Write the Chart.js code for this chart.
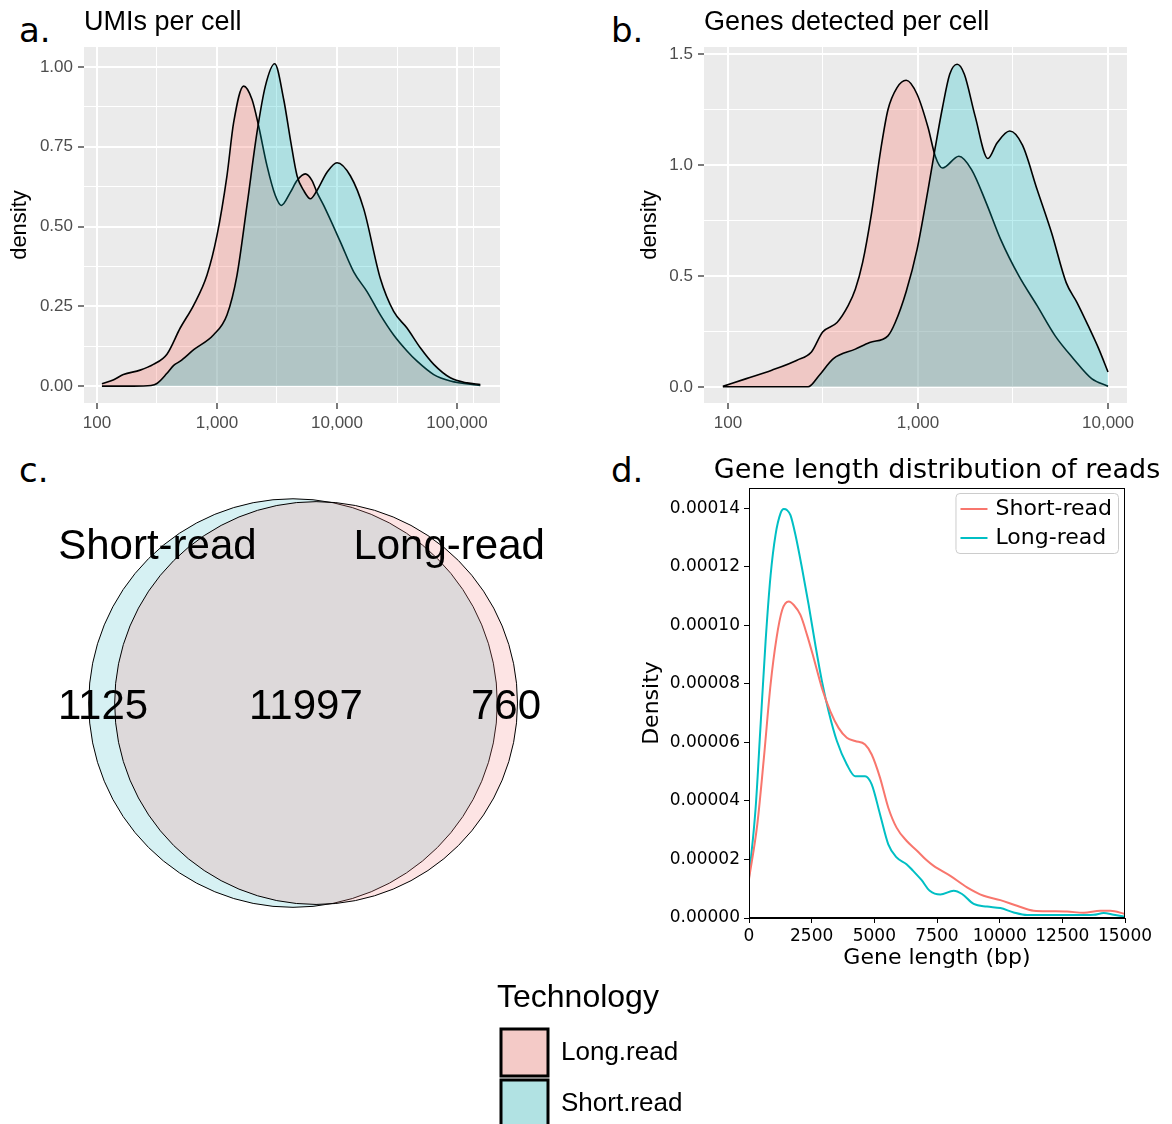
<!DOCTYPE html>
<html>
<head>
<meta charset="utf-8">
<title>Short-read vs long-read</title>
<script src="https://cdn.jsdelivr.net/npm/chart.js@4.4.1/dist/chart.umd.min.js"></script>
<style>
  html, body { margin: 0; padding: 0; background: #fff; }
  body { position: relative; width: 1172px; height: 1124px; overflow: hidden; }
  canvas { position: absolute; }
  .tag { position: absolute; font-family: "DejaVu Sans"; font-size: 34px; line-height: 34px; color: #000; }
</style>
</head>
<body>
<div class="tag" style="left:19px; top:13px;">a.</div>
<div class="tag" style="left:611px; top:13px;">b.</div>
<div class="tag" style="left:19px; top:453px;">c.</div>
<div class="tag" style="left:611px; top:453px;">d.</div>

<canvas id="chartA" width="520" height="440" style="left:0; top:0;"></canvas>
<canvas id="chartB" width="572" height="440" style="left:600px; top:0;"></canvas>
<canvas id="chartC" width="580" height="520" style="left:0; top:450px;"></canvas>
<canvas id="chartD" width="572" height="525" style="left:600px; top:450px;"></canvas>
<canvas id="chartLegend" width="400" height="170" style="left:497px; top:975px;"></canvas>

<script>
// ---- a. UMIs per cell (density on log10 axis) ----
const umiLongX = [110, 138, 166, 229, 295, 383, 494, 640, 826, 1000, 1211, 1377, 1667, 1959, 2223, 2612, 3062, 3436, 4083, 4645, 5445, 6194, 6808, 7745, 10666, 13772, 17783, 22961, 29648, 38282, 46452, 63973, 87902, 156300];
const umiLongY = [0.007, 0.02, 0.036, 0.05, 0.068, 0.10, 0.182, 0.254, 0.348, 0.472, 0.659, 0.826, 0.94, 0.898, 0.815, 0.69, 0.597, 0.566, 0.607, 0.644, 0.665, 0.644, 0.607, 0.566, 0.452, 0.358, 0.296, 0.223, 0.16, 0.11, 0.078, 0.036, 0.016, 0.002];
const umiShortX = [110, 200, 282, 316, 383, 436, 494, 640, 938, 1211, 1469, 1778, 2153, 2529, 3027, 3597, 4083, 4645, 5272, 5998, 6808, 8260, 10000, 12912, 16672, 22961, 29648, 38282, 49431, 63973, 87902, 121060, 156300];
const umiShortY = [0, 0, 0.002, 0.008, 0.04, 0.065, 0.078, 0.114, 0.161, 0.223, 0.348, 0.566, 0.794, 0.94, 1.01, 0.898, 0.774, 0.659, 0.613, 0.587, 0.613, 0.67, 0.70, 0.659, 0.556, 0.337, 0.234, 0.182, 0.12, 0.068, 0.026, 0.01, 0.005];
const umiTicks = [100, 1000, 10000, 100000];
const umiDensityTicks = [0, 0.25, 0.5, 0.75, 1];

// ---- b. Genes detected per cell ----
const geneLongX = [94, 125, 170, 231, 275, 315, 375, 429, 468, 511, 570, 637, 695, 776, 867, 989, 1130, 1233, 1346, 1641, 1914, 2286, 2723, 3396, 4236, 5272, 6577, 8204, 10000];
const geneLongY = [0.002, 0.037, 0.075, 0.12, 0.157, 0.247, 0.29, 0.366, 0.44, 0.56, 0.785, 1.07, 1.25, 1.35, 1.383, 1.32, 1.17, 1.04, 0.987, 1.04, 0.98, 0.83, 0.665, 0.50, 0.366, 0.23, 0.127, 0.037, 0.003];
const geneShortX = [94, 155, 264, 301, 359, 468, 557, 695, 759, 867, 989, 1130, 1233, 1346, 1469, 1607, 1754, 2000, 2333, 2606, 3041, 3548, 4236, 5047, 6026, 6871, 7852, 8954, 10000];
const geneShortY = [0, 0, 0, 0.05, 0.127, 0.17, 0.20, 0.23, 0.29, 0.43, 0.62, 0.89, 1.08, 1.26, 1.41, 1.455, 1.41, 1.22, 1.03, 1.10, 1.154, 1.09, 0.89, 0.695, 0.47, 0.38, 0.277, 0.17, 0.067];
const geneTicks = [100, 1000, 10000];
const geneDensityTicks = [0, 0.5, 1.0, 1.5];

// ---- c. Venn: genes detected ----
const vennSets = ['Short-read', 'Long-read'];
const vennOnly = [1125, 760];
const vennShared = 11997;
const vennCenterX = [0, 7.3];

// ---- d. Gene length distribution of reads ----
const lenShortX = [0, 331, 595, 860, 1098, 1323, 1588, 1786, 2051, 2315, 2580, 2911, 3241, 3572, 3903, 4234, 4630, 4895, 5226, 5557, 5887, 6284, 6702, 7078, 7367, 8032, 8697, 9362, 10027, 10692, 11357, 12022, 12687, 13352, 14017, 14416, 15000];
const lenShortY = [1.33e-5, 3.2e-5, 5.48e-5, 7.98e-5, 9.57e-5, 10.53e-5, 10.82e-5, 10.7e-5, 10.36e-5, 9.68e-5, 8.89e-5, 7.86e-5, 7.07e-5, 6.5e-5, 6.16e-5, 6.05e-5, 5.93e-5, 5.59e-5, 4.8e-5, 3.77e-5, 3.09e-5, 2.64e-5, 2.3e-5, 1.98e-5, 1.78e-5, 1.44e-5, 1.05e-5, 0.76e-5, 0.61e-5, 0.42e-5, 0.25e-5, 0.23e-5, 0.22e-5, 0.18e-5, 0.25e-5, 0.25e-5, 0.14e-5];
const lenLongX = [0, 265, 463, 661, 860, 1058, 1257, 1389, 1521, 1654, 1852, 2117, 2381, 2646, 2911, 3175, 3506, 3903, 4234, 4630, 4895, 5226, 5557, 5887, 6284, 6549, 6880, 7210, 7633, 8165, 8498, 8963, 9495, 10027, 10559, 11091, 12022, 12953, 13751, 14150, 14549, 15000];
const lenLongY = [1.39e-5, 3.77e-5, 6.61e-5, 9.45e-5, 11.7e-5, 13.1e-5, 13.83e-5, 13.98e-5, 13.94e-5, 13.77e-5, 13.1e-5, 11.95e-5, 10.7e-5, 9.34e-5, 8.09e-5, 7.07e-5, 6.05e-5, 5.25e-5, 4.85e-5, 4.85e-5, 4.57e-5, 3.55e-5, 2.52e-5, 2.07e-5, 1.84e-5, 1.61e-5, 1.3e-5, 0.93e-5, 0.8e-5, 0.93e-5, 0.82e-5, 0.48e-5, 0.39e-5, 0.34e-5, 0.19e-5, 0.10e-5, 0.10e-5, 0.10e-5, 0.11e-5, 0.17e-5, 0.11e-5, 0.045e-5];
const lenTicks = [0, 2500, 5000, 7500, 10000, 12500, 15000];
const lenDensityTicks = [0, 2e-5, 4e-5, 6e-5, 8e-5, 10e-5, 12e-5, 14e-5];

const techNames = ['Long.read', 'Short.read'];
const red = '#F8766D';
const teal = '#00BFC4';

Chart.defaults.font.family = 'Liberation Sans';
Chart.defaults.animation = false;
Chart.defaults.events = [];
Chart.defaults.plugins.legend.display = false;
Chart.defaults.plugins.tooltip.enabled = false;

const pairs = (xs, ys) => xs.map((x, i) => ({ x: x, y: ys[i] }));

// major ticks plus ggplot-style minor breaks halfway between them
function withMinor(major, mid, lo, hi) {
  const out = major.map(v => ({ value: v, gg: true }));
  const ext = [major[0] * 2 - major[1], ...major, major[major.length - 1] * 2 - major[major.length - 2]];
  for (let i = 0; i < ext.length - 1; i++) {
    const m = mid(ext[i], ext[i + 1]);
    if (m > lo && m < hi) out.push({ value: m, gg: false });
  }
  return out.sort((a, b) => a.value - b.value);
}
const logMid = (a, b) => (a > 0 ? Math.sqrt(a * b) : NaN);
const linMid = (a, b) => (a + b) / 2;

const ggPanel = {
  id: 'ggPanel',
  beforeDraw(chart) {
    const { ctx, chartArea: a } = chart;
    ctx.save();
    ctx.fillStyle = '#ebebeb';
    ctx.fillRect(a.left, a.top, a.width, a.height);
    ctx.restore();
  }
};

const ggGrid = {
  color: '#ffffff',
  lineWidth: c => (c.tick && c.tick.gg ? 2 : 1),
  tickColor: c => (c.tick && c.tick.gg ? '#333333' : 'rgba(0,0,0,0)'),
  tickWidth: 1.3,
  tickLength: 6,
  drawTicks: true
};

function densitySet(label, xs, ys, fill) {
  return {
    label: label,
    data: pairs(xs, ys),
    borderColor: '#000000',
    borderWidth: 1.6,
    backgroundColor: fill,
    fill: 'origin',
    pointRadius: 0,
    cubicInterpolationMode: 'monotone'
  };
}

function ggOptions(o) {
  return {
    responsive: false,
    layout: { padding: { left: o.padLeft, right: o.padRight, top: 0, bottom: 0 } },
    plugins: {
      title: {
        display: true, text: o.title, align: 'start', fullSize: false, color: '#000',
        font: { size: 27, weight: 'normal' }, padding: { top: 6, bottom: 8.6 }
      }
    },
    scales: {
      x: {
        type: 'logarithmic', min: o.xMin, max: o.xMax, bounds: 'data',
        afterBuildTicks: s => { s.ticks = withMinor(o.xTicks, logMid, o.xMin, o.xMax); },
        afterFit: s => { s.height = 37; },
        border: { display: false },
        grid: ggGrid,
        ticks: {
          autoSkip: false, maxRotation: 0, color: '#4d4d4d', font: { size: 17 }, padding: 4,
          callback: (v, i, t) => (t[i].gg ? Number(v).toLocaleString('en-US') : '')
        }
      },
      y: {
        type: 'linear', min: o.yMin, max: o.yMax, bounds: 'data',
        afterBuildTicks: s => { s.ticks = withMinor(o.yTicks, linMid, o.yMin, o.yMax); },
        afterFit: s => { s.width = o.yWidth; },
        border: { display: false },
        grid: ggGrid,
        title: { display: true, text: 'density', color: '#000', font: { size: 22 }, padding: { top: 7, bottom: 0 } },
        ticks: {
          color: '#4d4d4d', font: { size: 17 }, padding: 5,
          callback: (v, i, t) => (t[i].gg ? Number(v).toFixed(o.yDigits) : '')
        }
      }
    }
  };
}

const longFill = 'rgba(248,118,109,0.3)';
const shortFill = 'rgba(0,191,196,0.26)';

// a.
new Chart(document.getElementById('chartA'), {
  type: 'line',
  data: {
    datasets: [
      densitySet(techNames[1], umiShortX, umiShortY, shortFill),
      densitySet(techNames[0], umiLongX, umiLongY, longFill)
    ]
  },
  options: ggOptions({
    title: 'UMIs per cell', xMin: 78, xMax: 228000, xTicks: umiTicks,
    yMin: -0.053, yMax: 1.0625, yTicks: umiDensityTicks, yDigits: 2,
    yWidth: 84, padLeft: 0, padRight: 20
  }),
  plugins: [ggPanel]
});

// b.
new Chart(document.getElementById('chartB'), {
  type: 'line',
  data: {
    datasets: [
      densitySet(techNames[1], geneShortX, geneShortY, shortFill),
      densitySet(techNames[0], geneLongX, geneLongY, longFill)
    ]
  },
  options: ggOptions({
    title: 'Genes detected per cell', xMin: 74.8, xMax: 12590, xTicks: geneTicks,
    yMin: -0.073, yMax: 1.533, yTicks: geneDensityTicks, yDigits: 1,
    yWidth: 74, padLeft: 30, padRight: 45
  }),
  plugins: [ggPanel]
});

// c. Venn diagram: circle areas follow the set sizes
const vennText = {
  id: 'vennText',
  afterDatasetsDraw(chart, args, opts) {
    const { ctx, scales: { x, y } } = chart;
    ctx.save();
    ctx.fillStyle = '#000';
    ctx.textAlign = 'center';
    ctx.textBaseline = 'alphabetic';
    ctx.font = '42px "Liberation Sans"';
    opts.items.forEach(it => ctx.fillText(it.text, x.getPixelForValue(it.x), y.getPixelForValue(it.y)));
    ctx.restore();
  }
};

// radius in data units -> pixels through the x scale
const vennRadius = c => {
  const s = c.chart.scales.x;
  if (!s || !c.raw) return 0;
  const r = Math.sqrt(c.raw.size / Math.PI);
  const px = s.getPixelForValue(r) - s.getPixelForValue(0);
  return isFinite(px) ? px : 0;
};

function vennSet(i, fill) {
  return {
    label: vennSets[i],
    data: [{ x: vennCenterX[i], y: 0, size: vennOnly[i] + vennShared }],
    showLine: false,
    pointRadius: vennRadius,
    pointHoverRadius: vennRadius,
    pointBackgroundColor: fill,
    pointBorderColor: '#000',
    pointBorderWidth: 1,
    clip: false
  };
}

new Chart(document.getElementById('chartC'), {
  type: 'scatter',
  data: {
    datasets: [
      vennSet(1, 'rgba(246,132,132,0.22)'),
      vennSet(0, 'rgba(0,170,180,0.16)')
    ]
  },
  options: {
    responsive: false,
    layout: { padding: 0, autoPadding: false },
    scales: {
      x: { type: 'linear', display: false, min: -92.7, max: 90.8 },
      y: { type: 'linear', display: false, min: -84.5, max: 80.1 }
    },
    plugins: {
      vennText: {
        items: [
          { text: vennSets[0], x: -42.9, y: 45.6 },
          { text: vennSets[1], x: 49.4, y: 45.6 },
          { text: String(vennOnly[0]), x: -60.1, y: -5.2 },
          { text: String(vennShared), x: 4.1, y: -5.2 },
          { text: String(vennOnly[1]), x: 67.4, y: -5.2 }
        ]
      }
    }
  },
  plugins: [vennText]
});

// d. matplotlib-style frame and legend
const mplFrame = {
  id: 'mplFrame',
  afterLayout(chart) {
    // let the title run wider than the axes, as matplotlib does
    const t = chart.titleBlock;
    if (t) { t.left -= 80; t.right += 80; t.width += 160; }
  },
  afterDatasetsDraw(chart) {
    const { ctx, chartArea: a } = chart;
    ctx.save();
    ctx.strokeStyle = '#000';
    ctx.lineWidth = 1;
    ctx.strokeRect(Math.round(a.left) + 0.5, Math.round(a.top) + 0.5, Math.round(a.width) - 1, Math.round(a.height) - 1);

    const sets = chart.data.datasets;
    ctx.font = '22px "DejaVu Sans"';
    const textW = Math.max(...sets.map(d => ctx.measureText(d.label).width));
    const rowH = 29, lineLen = 27;
    const w = 5 + lineLen + 8 + textW + 6;
    const h = rowH * sets.length + 2;
    const left = a.right - 7 - w;
    const top = a.top + 5;
    ctx.beginPath();
    ctx.roundRect(left + 0.5, top + 0.5, w, h, 4);
    ctx.fillStyle = 'rgba(255,255,255,0.8)';
    ctx.fill();
    ctx.strokeStyle = '#cccccc';
    ctx.stroke();
    ctx.textBaseline = 'middle';
    ctx.textAlign = 'left';
    sets.forEach((d, i) => {
      const cy = top + 16 + i * rowH;
      ctx.beginPath();
      ctx.moveTo(left + 5, cy);
      ctx.lineTo(left + 5 + lineLen, cy);
      ctx.strokeStyle = d.borderColor;
      ctx.lineWidth = 2;
      ctx.stroke();
      ctx.fillStyle = '#000';
      ctx.fillText(d.label, left + 5 + lineLen + 8, cy);
    });
    ctx.restore();
  }
};

const mplFont = size => ({ family: 'DejaVu Sans', size: size, weight: 'normal' });
const mplGrid = { drawOnChartArea: false, drawTicks: true, tickLength: 5, tickColor: '#000', tickWidth: 1 };

new Chart(document.getElementById('chartD'), {
  type: 'line',
  data: {
    datasets: [
      { label: 'Short-read', data: pairs(lenShortX, lenShortY), borderColor: red, borderWidth: 2, pointRadius: 0, fill: false, cubicInterpolationMode: 'monotone' },
      { label: 'Long-read', data: pairs(lenLongX, lenLongY), borderColor: teal, borderWidth: 2, pointRadius: 0, fill: false, cubicInterpolationMode: 'monotone' }
    ]
  },
  options: {
    responsive: false,
    layout: { padding: { left: 0, right: 47, top: 0, bottom: 0 } },
    plugins: {
      title: {
        display: true, text: 'Gene length distribution of reads', align: 'center', fullSize: false,
        color: '#000', font: mplFont(27), padding: { top: 5, bottom: 0.6 }
      }
    },
    scales: {
      x: {
        type: 'linear', min: 0, max: 15000, bounds: 'data',
        afterBuildTicks: s => { s.ticks = lenTicks.map(v => ({ value: v })); },
        afterFit: s => { s.height = 57; },
        grid: mplGrid,
        border: { display: true, color: '#000', width: 1 },
        ticks: { color: '#000', font: mplFont(17), padding: 3, maxRotation: 0, autoSkip: false, callback: v => String(v) },
        title: { display: true, text: 'Gene length (bp)', color: '#000', font: mplFont(22), padding: { top: 0, bottom: 3.8 } }
      },
      y: {
        type: 'linear', min: 0, max: 0.000147, bounds: 'data',
        afterBuildTicks: s => { s.ticks = lenDensityTicks.map(v => ({ value: v })); },
        afterFit: s => { s.width = 149; },
        grid: mplGrid,
        border: { display: true, color: '#000', width: 1 },
        ticks: { color: '#000', font: mplFont(17), padding: 4, callback: v => Number(v).toFixed(5) },
        title: { display: true, text: 'Density', color: '#000', font: mplFont(22), padding: { top: 38.8, bottom: 0 } }
      }
    }
  },
  plugins: [mplFrame]
});

// shared fill legend for a. and b.
new Chart(document.getElementById('chartLegend'), {
  type: 'bar',
  data: {
    labels: [],
    datasets: [
      { label: techNames[0], data: [], backgroundColor: '#f4cac7', borderColor: '#000', borderWidth: 3 },
      { label: techNames[1], data: [], backgroundColor: '#b1e2e3', borderColor: '#000', borderWidth: 3 }
    ]
  },
  options: {
    responsive: false,
    layout: { padding: 0 },
    scales: { x: { display: false }, y: { display: false } },
    plugins: {
      legend: {
        display: true, position: 'left', align: 'start', maxWidth: 300,
        labels: { boxWidth: 47, boxHeight: 47, padding: 4, color: '#000', font: { size: 26 } },
        title: { display: true, text: 'Technology', position: 'start', color: '#000', font: { size: 32 }, padding: { top: 7, bottom: 4.6 } }
      }
    }
  }
});
</script>
</body>
</html>
